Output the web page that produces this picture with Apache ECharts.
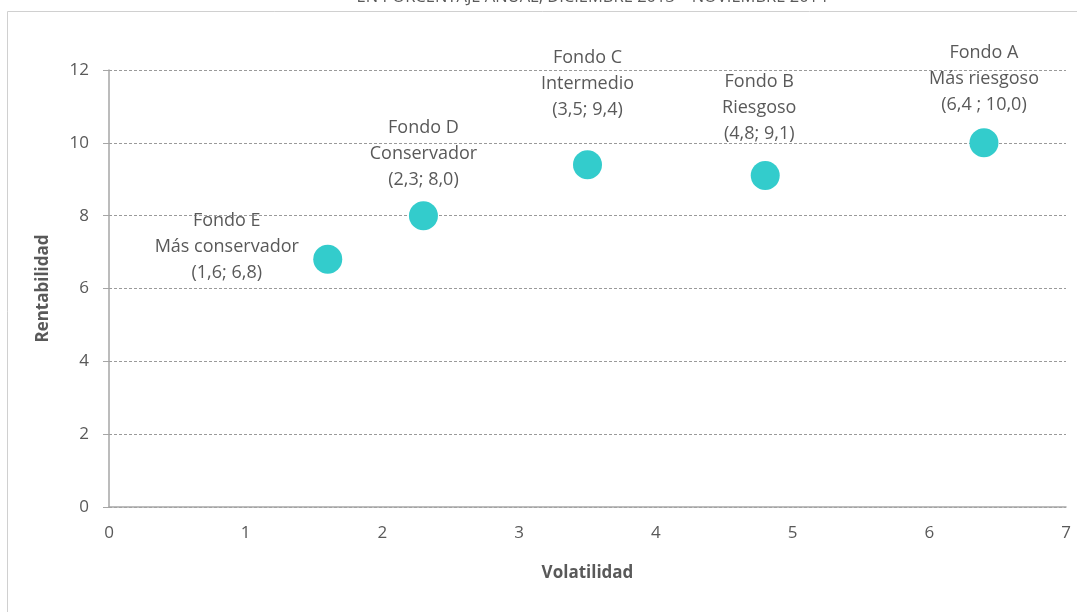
<!DOCTYPE html>
<html>
<head>
<meta charset="utf-8">
<script src="https://cdn.jsdelivr.net/npm/echarts@6/dist/echarts.min.js"></script>
<style>
  html, body { margin: 0; padding: 0; background: #ffffff; }
  #chart { width: 1077px; height: 612px; }
</style>
</head>
<body>
<div id="chart"></div>
<script>
// Pension funds: annual volatility vs. return (%)
const funds = ['Fondo E', 'Fondo D', 'Fondo C', 'Fondo B', 'Fondo A'];
const profiles = ['Más conservador', 'Conservador', 'Intermedio', 'Riesgoso', 'Más riesgoso'];
const volatility = [1.6, 2.3, 3.5, 4.8, 6.4];
const returns = [6.8, 8.0, 9.4, 9.1, 10.0];
const valueText = ['(1,6; 6,8)', '(2,3; 8,0)', '(3,5; 9,4)', '(4,8; 9,1)', '(6,4 ; 10,0)'];
const xTicks = [0, 1, 2, 3, 4, 5, 6, 7];
const yTicks = [0, 2, 4, 6, 8, 10, 12];

const FONT = '"Open Sans", "Noto Sans", sans-serif';
const GREY = '#595959';

// label nudges per fund, in pixels
const labelShift = [[-101, 49], [0, 0], [0, -19], [-6, -6], [0, -2]];

const points = funds.map((f, i) => ({
  value: [volatility[i], returns[i]],
  name: f,
  label: { offset: labelShift[i] }
}));

const chart = echarts.init(document.getElementById('chart'), null, { renderer: 'canvas' });
chart.setOption({
  animation: false,
  backgroundColor: '#ffffff',
  textStyle: { fontFamily: FONT },
  grid: { left: 109, right: 11, top: 70, bottom: 105 },
  graphic: [
    { type: 'line', shape: { x1: 7.5, y1: 11.5, x2: 1077, y2: 11.5 }, style: { stroke: '#d0d0d0', lineWidth: 1 } },
    { type: 'line', shape: { x1: 7.5, y1: 11.5, x2: 7.5, y2: 612 }, style: { stroke: '#d0d0d0', lineWidth: 1 } },
    {
      type: 'text', x: 592, y: 6,
      style: {
        text: 'EN PORCENTAJE ANUAL, DICIEMBRE 2013 – NOVIEMBRE 2014',
        font: '16.5px ' + FONT, fill: GREY,
        align: 'center', verticalAlign: 'bottom'
      }
    }
  ],
  xAxis: {
    type: 'value', min: xTicks[0], max: xTicks[xTicks.length - 1], interval: 1,
    name: 'Volatilidad', nameLocation: 'middle', nameGap: 58,
    nameTextStyle: { fontSize: 17, fontWeight: 'bold', color: GREY, fontFamily: FONT },
    axisLine: { show: true, lineStyle: { color: '#a6a6a6', width: 1.5 } },
    axisTick: { show: false },
    axisLabel: { color: GREY, fontSize: 17, margin: 18, fontFamily: FONT },
    splitLine: { show: false }
  },
  yAxis: {
    type: 'value', min: yTicks[0], max: yTicks[yTicks.length - 1], interval: 2,
    name: 'Rentabilidad', nameLocation: 'middle', nameGap: 57, nameRotate: 90,
    nameTextStyle: { fontSize: 17, fontWeight: 'bold', color: GREY, fontFamily: FONT },
    axisLine: { show: true, lineStyle: { color: '#a6a6a6', width: 1.5 } },
    axisTick: { show: true, length: 6, lineStyle: { color: '#a6a6a6' } },
    axisLabel: { color: GREY, fontSize: 17, margin: 20, fontFamily: FONT },
    splitLine: { show: true, lineStyle: { color: '#808080', type: [3, 2], width: 0.8 } }
  },
  series: [{
    type: 'scatter',
    symbol: 'circle',
    symbolSize: 29,
    itemStyle: { color: '#33cccc', opacity: 1 },
    data: points,
    label: {
      show: true,
      position: 'top',
      distance: 8,
      color: GREY,
      fontSize: 18,
      lineHeight: 26,
      align: 'center',
      fontFamily: FONT,
      formatter: p => funds[p.dataIndex] + '\n' + profiles[p.dataIndex] + '\n' + valueText[p.dataIndex]
    }
  }]
});
</script>
</body>
</html>
